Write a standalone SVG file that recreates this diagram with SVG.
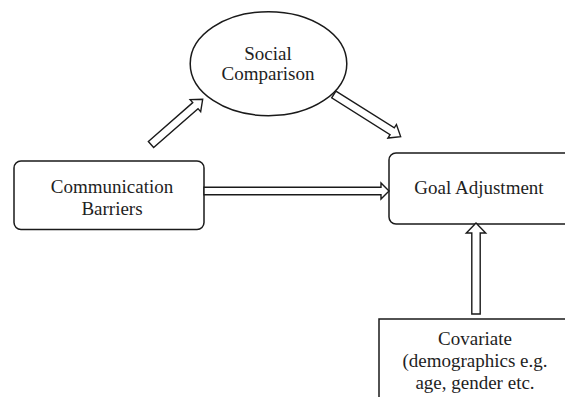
<svg xmlns="http://www.w3.org/2000/svg" width="565" height="397" viewBox="0 0 565 397">
<style>
.shape{fill:#fff;stroke:#1a1a1a;stroke-width:1.5}
.arrow{fill:#fff;stroke:#1a1a1a;stroke-width:1.4;stroke-linejoin:miter}
.t{font-family:'Liberation Serif','DejaVu Serif',serif;font-size:19px;fill:#1e1e1e;text-anchor:middle}
</style>
<rect width="565" height="397" fill="#fff"/>
<g id="social-comparison">
<ellipse class="shape" cx="268.5" cy="63.7" rx="78.3" ry="52"/>
<text class="t" x="268" y="60" font-family="Liberation Serif, serif">Social</text>
<text class="t" x="268" y="80" font-family="Liberation Serif, serif">Comparison</text>
</g>
<g id="communication-barriers">
<rect class="shape" x="14" y="161" width="190" height="68.5" rx="7"/>
<text class="t" x="112" y="193" font-family="Liberation Serif, serif">Communication</text>
<text class="t" x="112" y="215" font-family="Liberation Serif, serif">Barriers</text>
</g>
<g id="goal-adjustment">
<rect class="shape" x="389" y="153" width="200" height="71" rx="7"/>
<text class="t" x="479" y="194" font-family="Liberation Serif, serif">Goal Adjustment</text>
</g>
<g id="covariate">
<rect class="shape" x="379" y="319" width="210" height="100"/>
<text class="t" x="475" y="345" font-family="Liberation Serif, serif">Covariate</text>
<text class="t" x="475" y="367" font-family="Liberation Serif, serif">(demographics e.g.</text>
<text class="t" x="475" y="389" font-family="Liberation Serif, serif">age, gender etc.</text>
</g>
<g id="connectors">
<polygon class="arrow" transform="translate(204,191)" points="0,-3.7 177,-3.7 177,-8 185,0 177,8 177,3.7 0,3.7"/>
<polygon class="arrow" transform="translate(476,314) rotate(-90)" points="0,-4.2 81,-4.2 81,-9.7 91,0 81,9.7 81,4.2 0,4.2"/>
<polygon class="arrow" transform="translate(151,144.5) rotate(-41.2)" points="0,-4 59,-4 59,-8 68.7,0 59,8 59,4 0,4"/>
<polygon class="arrow" transform="translate(333.8,94.5) rotate(32.2)" points="0,-4 69,-4 69,-8 79,0 69,8 69,4 0,4"/>
</g>
</svg>
